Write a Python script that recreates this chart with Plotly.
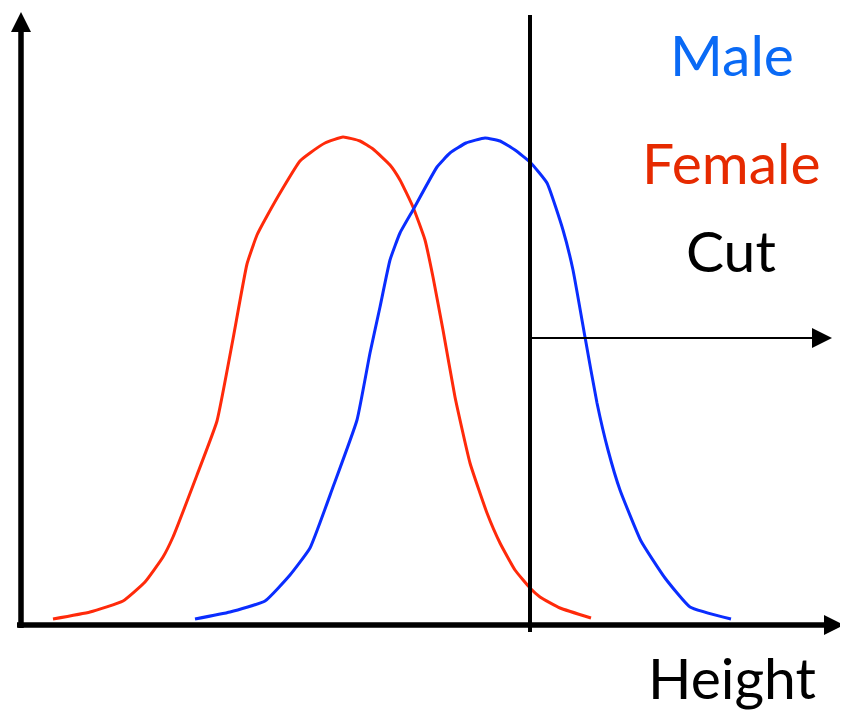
import plotly.graph_objects as go

# schematic height distributions (x: height units from the origin, y: count)
female_x = [32, 69, 102, 124, 142, 152, 176, 196, 212, 226, 236, 246, 262, 279, 289, 304, 322,
            339, 352, 369, 379, 392, 404, 412, 422, 434, 449, 466, 479, 494, 509, 519, 539, 570]
female_y = [6, 13, 24, 43, 68, 88, 150, 204, 286, 361, 390, 409, 437, 464, 472, 482, 488,
            484, 476, 460, 445, 418, 385, 348, 295, 228, 162, 112, 82, 55, 37, 28, 17, 7]

male_x = [174, 209, 244, 269, 289, 312, 336, 349, 359, 369, 379, 392, 416, 429, 445,
          464, 479, 494, 509, 526, 542, 552, 564, 576, 587, 599, 620, 644, 669, 710]
male_y = [6, 13, 24, 50, 77, 138, 205, 272, 318, 365, 392, 415, 458, 472, 482,
          487, 484, 475, 463, 442, 395, 355, 288, 222, 175, 135, 84, 47, 18, 6]

cut_x = 509
cut_arrow_y = 287

fig = go.Figure()

fig.add_trace(go.Scatter(
    x=female_x, y=female_y, mode="lines", name="Female",
    line=dict(color="#ff2a0a", width=3, shape="spline", smoothing=0.4)
))
fig.add_trace(go.Scatter(
    x=male_x, y=male_y, mode="lines", name="Male",
    line=dict(color="#0a2dff", width=3, shape="spline", smoothing=0.4)
))

# cut line
fig.add_shape(type="line", x0=cut_x, x1=cut_x, y0=-7, y1=610,
              line=dict(color="black", width=4))
# axes
fig.add_shape(type="line", x0=-4, x1=808, y0=0, y1=0,
              line=dict(color="black", width=5.5))
fig.add_shape(type="line", x0=0, x1=0, y0=-3, y1=598,
              line=dict(color="black", width=5.5))

arrows = [
    # x axis, y axis, cut direction
    dict(x=823, y=0, ax=790, ay=0, arrowwidth=4, arrowsize=1.0),
    dict(x=0, y=613, ax=0, ay=580, arrowwidth=4, arrowsize=1.0),
    dict(x=811, y=cut_arrow_y, ax=cut_x - 3, ay=cut_arrow_y, arrowwidth=2, arrowsize=2.0),
]
for a in arrows:
    fig.add_annotation(
        x=a["x"], y=a["y"], ax=a["ax"], ay=a["ay"],
        xref="x", yref="y", axref="x", ayref="y",
        showarrow=True, arrowhead=2, arrowcolor="black",
        arrowwidth=a["arrowwidth"], arrowsize=a["arrowsize"], text=""
    )

labels = [
    ("Male", 711, 571, "#0a6af5"),
    ("Female", 710, 463, "#e62a00"),
    ("Cut", 710, 375, "black"),
    ("Height", 711, -52, "black"),
]
for text, x, y, color in labels:
    fig.add_annotation(
        x=x, y=y, xref="x", yref="y", text=text, showarrow=False,
        xanchor="center", yanchor="middle",
        font=dict(family="Lato", size=57, color=color)
    )

# the page body has an 8px margin, so the figure covers 840x707 of the window
fig.update_layout(
    width=840, height=707,
    margin=dict(l=0, r=0, t=0, b=0),
    paper_bgcolor="white", plot_bgcolor="white",
    showlegend=False,
    xaxis=dict(range=[-13, 827], visible=False, fixedrange=True),
    yaxis=dict(range=[-90, 617], visible=False, fixedrange=True),
)

fig.write_html("out.html")
